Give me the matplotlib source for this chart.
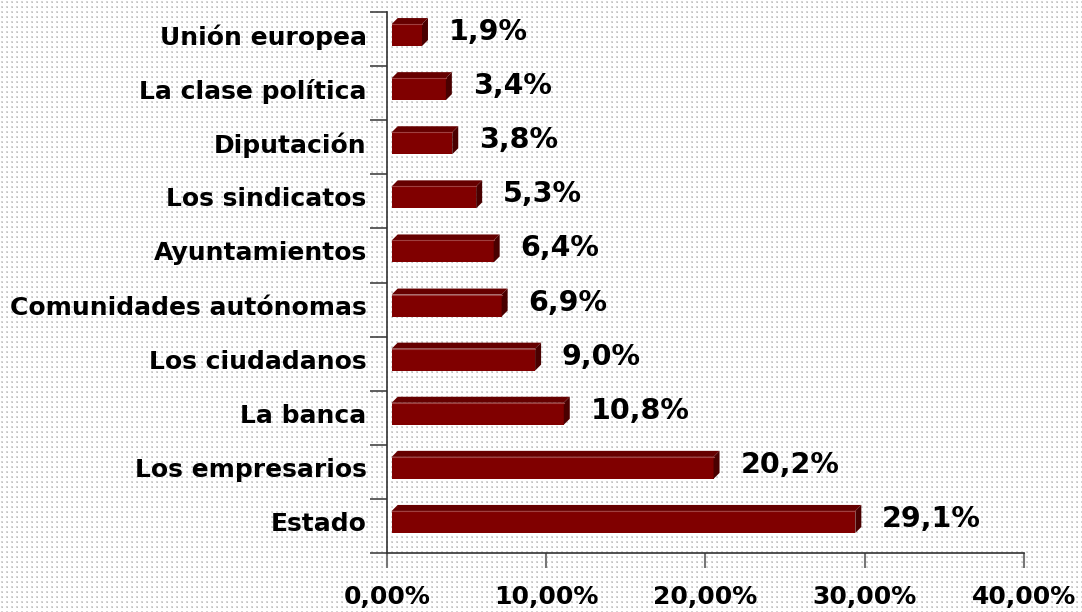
import numpy as np
import matplotlib.pyplot as plt
from matplotlib.patches import Polygon, Rectangle
from matplotlib.transforms import ScaledTranslation, blended_transform_factory

# data (bottom to top)
categorias = ['Estado', 'Los empresarios', 'La banca', 'Los ciudadanos',
              'Comunidades autónomas', 'Ayuntamientos', 'Los sindicatos',
              'Diputación', 'La clase política', 'Unión europea']
valores = [29.1, 20.2, 10.8, 9.0, 6.9, 6.4, 5.3, 3.8, 3.4, 1.9]
ticks_x = [0, 10, 20, 30, 40]
etiquetas_x = ['0,00%', '10,00%', '20,00%', '30,00%', '40,00%']

W, H = 1082, 612
fig = plt.figure(figsize=(W / 100, H / 100), dpi=100)

# dotted background
fondo = np.ones((H, W, 3))
fondo[1::5, 1::5] = 0.84
fondo[2::5, 2::5] = 0.76
fondo[1::5, 2::5] = 0.84
fondo[2::5, 1::5] = 0.84
bg = fig.add_axes([0, 0, 1, 1], zorder=-1)
bg.imshow(fondo, aspect='auto', interpolation='nearest')
bg.axis('off')

x0, x1 = 386.7, 1024
y_top, y_bot = 12, 553
ax = fig.add_axes([x0 / W, (H - y_bot) / H, (x1 - x0) / W, (y_bot - y_top) / H])
ax.patch.set_visible(False)
ax.set_xlim(0, 40)
ax.set_ylim(-0.5, 9.5)

px_x = (x1 - x0) / 40.0          # pixels per %
px_y = (y_bot - y_top) / 10.0     # pixels per category
ddx = 6 / px_x
ddy = 6 / px_y
alto = 22 / px_y

desplaza = ax.transData + ScaledTranslation(5 / 100, 4 / 100, fig.dpi_scale_trans)
desplaza_txt = ax.transData + ScaledTranslation(0, 7 / 100, fig.dpi_scale_trans)
trans_cat = blended_transform_factory(ax.transAxes, ax.transData) + \
    ScaledTranslation(-20 / 100, 2 / 100, fig.dpi_scale_trans)

for i, v in enumerate(valores):
    b = i - alto / 2
    t = i + alto / 2
    ax.add_patch(Rectangle((0, b), v, alto, facecolor='#800000',
                           edgecolor='none', transform=desplaza, zorder=3))
    ax.add_patch(Polygon([(0, t), (v, t), (v + ddx, t + ddy), (ddx, t + ddy)],
                         closed=True, facecolor='#660000', edgecolor='none',
                         transform=desplaza, zorder=3))
    ax.plot([0, v], [t, t], color='#a04040', lw=0.8, transform=desplaza, zorder=4)
    ax.add_patch(Polygon([(v, b), (v, t), (v + ddx, t + ddy), (v + ddx, b + ddy)],
                         closed=True, facecolor='#4a0000', edgecolor='none',
                         transform=desplaza, zorder=3))
    ax.text(v + 2.0, i, ('%.1f%%' % v).replace('.', ','), transform=desplaza_txt,
            va='center', ha='left', fontsize=20.5, fontweight='bold', color='black')

# category names
for i, nombre in enumerate(categorias):
    ax.text(0, i, nombre, transform=trans_cat, ha='right', va='center',
            fontsize=18, fontweight='bold', color='black', clip_on=False)

ax.set_yticks(range(len(categorias)))
ax.set_yticklabels([])
ax.set_yticks(np.arange(-0.5, 10, 1), minor=True)
ax.tick_params(axis='y', which='major', length=0)
ax.tick_params(axis='y', which='minor', length=12, width=1.2, color='#444444',
               direction='out')

ax.set_xticks(ticks_x)
ax.set_xticklabels(etiquetas_x, fontsize=18, fontweight='bold')
ax.tick_params(axis='x', length=11, width=1.5, color='#777777', pad=12)

for s in ['top', 'right']:
    ax.spines[s].set_visible(False)
for s in ['left', 'bottom']:
    ax.spines[s].set_color('#333333')
    ax.spines[s].set_linewidth(1.2)

fig.savefig('out.png', dpi=100)
